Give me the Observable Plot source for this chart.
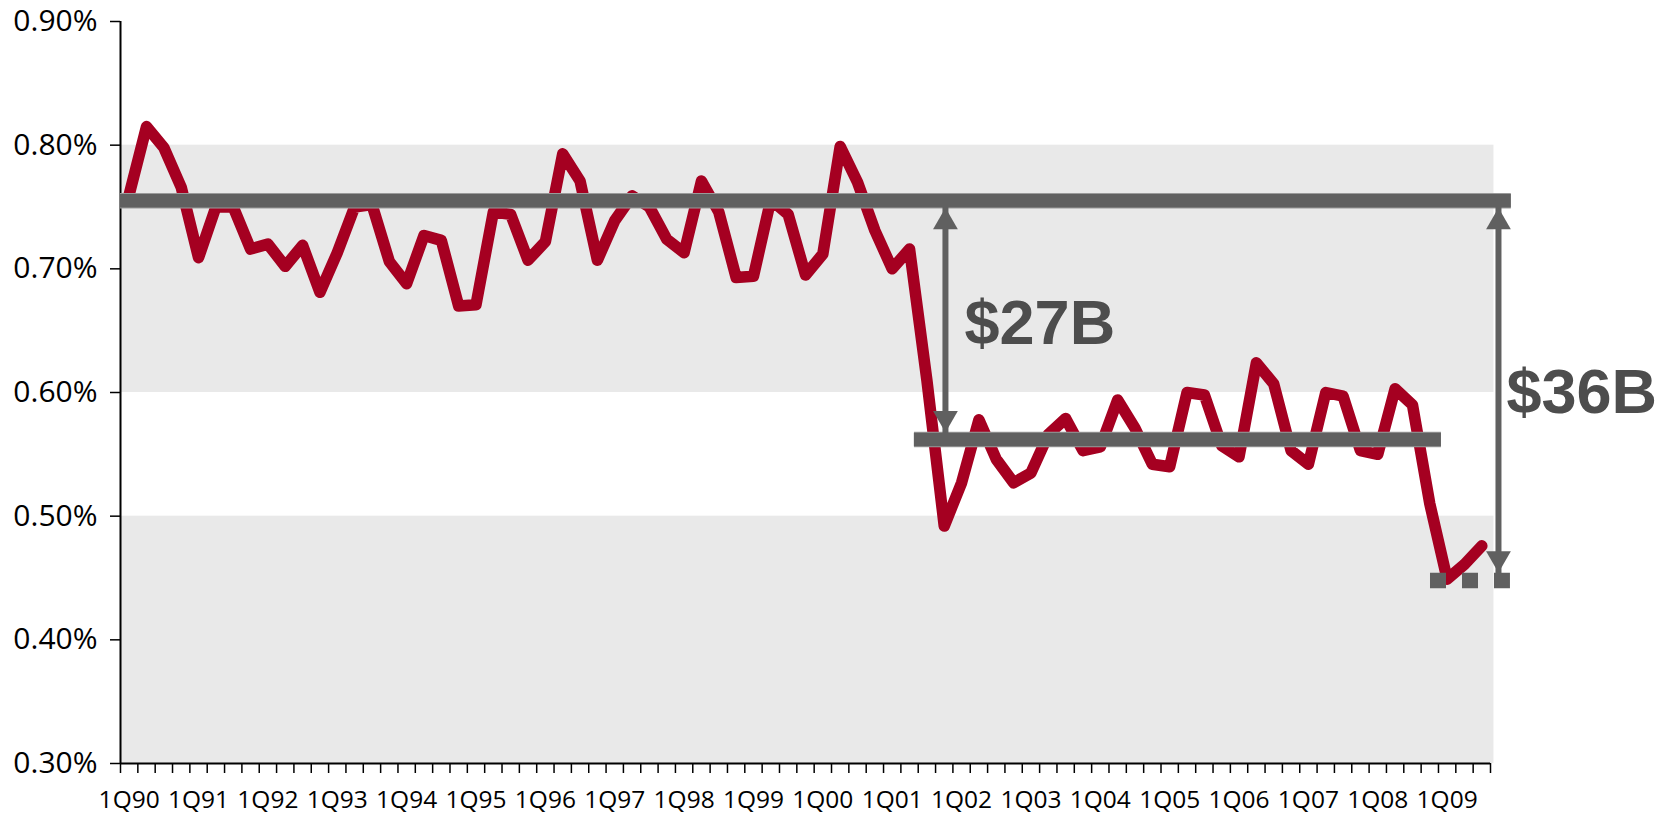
<!DOCTYPE html>
<html>
<head>
<meta charset="utf-8">
<script src="https://cdn.jsdelivr.net/npm/d3@7"></script>
<script src="https://cdn.jsdelivr.net/npm/@observablehq/plot@0.6"></script>
<style>
  html, body { margin: 0; padding: 0; background: #fff; }
  #chart svg { display: block; }
</style>
</head>
<body>
<div id="chart"></div>
<script>
// ---- DATA ----
const years = ["90","91","92","93","94","95","96","97","98","99","00","01","02","03","04","05","06","07","08","09"];
const quarterLabels = years.flatMap(y => ["1Q","2Q","3Q","4Q"].map(q => q + y)).slice(0, 79); // 1Q90 .. 3Q09
const values = [
  0.760, 0.815, 0.798, 0.766, 0.709, 0.750, 0.750, 0.716, 0.720, 0.702,
  0.719, 0.681, 0.713, 0.750, 0.752, 0.706, 0.688, 0.727, 0.723, 0.670,
  0.671, 0.746, 0.744, 0.707, 0.722, 0.793, 0.771, 0.707, 0.739, 0.759,
  0.750, 0.724, 0.713, 0.771, 0.746, 0.693, 0.694, 0.756, 0.744, 0.695,
  0.712, 0.799, 0.770, 0.731, 0.700, 0.716, 0.610, 0.492, 0.527, 0.578,
  0.546, 0.527, 0.535, 0.566, 0.579, 0.553, 0.556, 0.594, 0.571, 0.542,
  0.540, 0.600, 0.598, 0.557, 0.548, 0.624, 0.607, 0.553, 0.542, 0.600,
  0.597, 0.553, 0.550, 0.603, 0.590, 0.510, 0.449, 0.461, 0.476
];
const xTickLabels = ["1Q90","1Q91","1Q92","1Q93","1Q94","1Q95","1Q96","1Q97","1Q98","1Q99","1Q00","1Q01","1Q02","1Q03","1Q04","1Q05","1Q06","1Q07","1Q08","1Q09"];
const yTicks = [0.3, 0.4, 0.5, 0.6, 0.7, 0.8, 0.9];
const bandRanges = [[0.3, 0.5], [0.6, 0.8]];
const level1990s = 0.755;   // average level 1990-2001
const level2000s = 0.562;   // average level 2002-2008
const level2009 = 0.448;    // 2009 level
const gapLabels = ["$27B", "$36B"];

// ---- TABLES ----
const series = values.map((v, i) => ({q: quarterLabels[i], i, v}));
const nQ = quarterLabels.length;
const labelRows = xTickLabels.map(t => ({t, i: quarterLabels.indexOf(t)}));

const barColor = "#606060";
const barEdge = "#9a9a9a";
const lineColor = "#a50021";
const textColor = "#4d4d4d";

// annotation anchors (in quarter units)
const upperBar = {x1: 0, x2: nQ + 1.2, y: level1990s};
const lowerBar = {x1: 45.78, x2: 76.17, y: level2000s};
const dotted = {x1: 75.54, x2: 80.15, y: level2009};
const arrows = [
  {x: 47.57, top: level1990s, bottom: level2000s},
  {x: 79.46, top: level1990s, bottom: level2009}
];
const labels = [
  {x: 48.67, y: 0.6555, text: gapLabels[0]},
  {x: 79.92, y: 0.600, text: gapLabels[1]}
];

const triR = 9.2;    // arrow head size
const tipOff = 14.3; // centroid-to-tip distance of the triangle

const chart = Plot.plot({
  width: 1670,
  height: 816,
  marginLeft: 120,
  marginRight: 180,
  marginTop: 21,
  marginBottom: 53,
  x: {type: "linear", domain: [0, nQ], axis: null},
  y: {type: "linear", domain: [0.3, 0.9], axis: null},
  style: {background: "#fff", color: "#000", overflow: "visible"},
  marks: [
    // alternating bands
    Plot.rect(bandRanges, {x1: () => 0, x2: () => nQ + 0.2, y1: d => d[0], y2: d => d[1], fill: "#e9e9e9"}),
    // axes
    Plot.axisY({ticks: yTicks, tickSize: 10, tickPadding: 13, tickFormat: d => d.toFixed(2) + "%",
                fontSize: 30, fontFamily: "Open Sans", label: null, strokeWidth: 1.5}),
    Plot.axisX({ticks: d3.range(0, nQ + 1), tickSize: 10, tickFormat: () => "", label: null, strokeWidth: 1.5}),
    Plot.ruleX([0], {y1: 0.3, y2: 0.9, stroke: "#000", strokeWidth: 2}),
    Plot.ruleY([0.3], {x1: 0, x2: nQ, stroke: "#000", strokeWidth: 2}),
    Plot.text(labelRows, {x: d => d.i + 0.5, y: () => 0.3, text: "t", dy: 37, fontSize: 24.5,
                          fontFamily: "Open Sans", fill: "#000", textAnchor: "middle", lineAnchor: "middle"}),
    // data line
    Plot.line(series, {x: d => d.i + 0.5, y: "v", stroke: lineColor, strokeWidth: 11.5}),
    // level bars
    Plot.ruleY([upperBar, lowerBar], {x1: "x1", x2: "x2", y: "y", stroke: barEdge, strokeWidth: 15.5}),
    Plot.ruleY([upperBar, lowerBar], {x1: "x1", x2: "x2", y: "y", stroke: barColor, strokeWidth: 13.5}),
    Plot.ruleY([dotted], {x1: "x1", x2: "x2", y: "y", stroke: barColor, strokeWidth: 15.6,
                          strokeDasharray: "16,16", strokeLinecap: "butt"}),
    // arrows
    Plot.ruleX(arrows, {x: "x", y1: "top", y2: "bottom", stroke: barColor, strokeWidth: 6}),
    Plot.dot(arrows, {x: "x", y: "top", symbol: "triangle", r: triR, fill: barColor, stroke: null,
                      dy: 7 + tipOff}),
    Plot.dot(arrows.slice(0, 1), {x: "x", y: "bottom", symbol: "triangle", r: triR, fill: barColor, stroke: null,
                      rotate: 180, dy: -(7 + tipOff)}),
    Plot.dot(arrows.slice(1), {x: "x", y: "bottom", symbol: "triangle", r: triR, fill: barColor, stroke: null,
                      rotate: 180, dy: -(7.8 + tipOff)}),
    // gap labels
    Plot.text(labels, {x: "x", y: "y", text: "text", fontSize: 63, fontWeight: "bold",
                       fontFamily: "Liberation Sans, Arial, sans-serif", fill: textColor,
                       textAnchor: "start", lineAnchor: "middle"})
  ]
});
document.getElementById("chart").appendChild(chart);
</script>
</body>
</html>
